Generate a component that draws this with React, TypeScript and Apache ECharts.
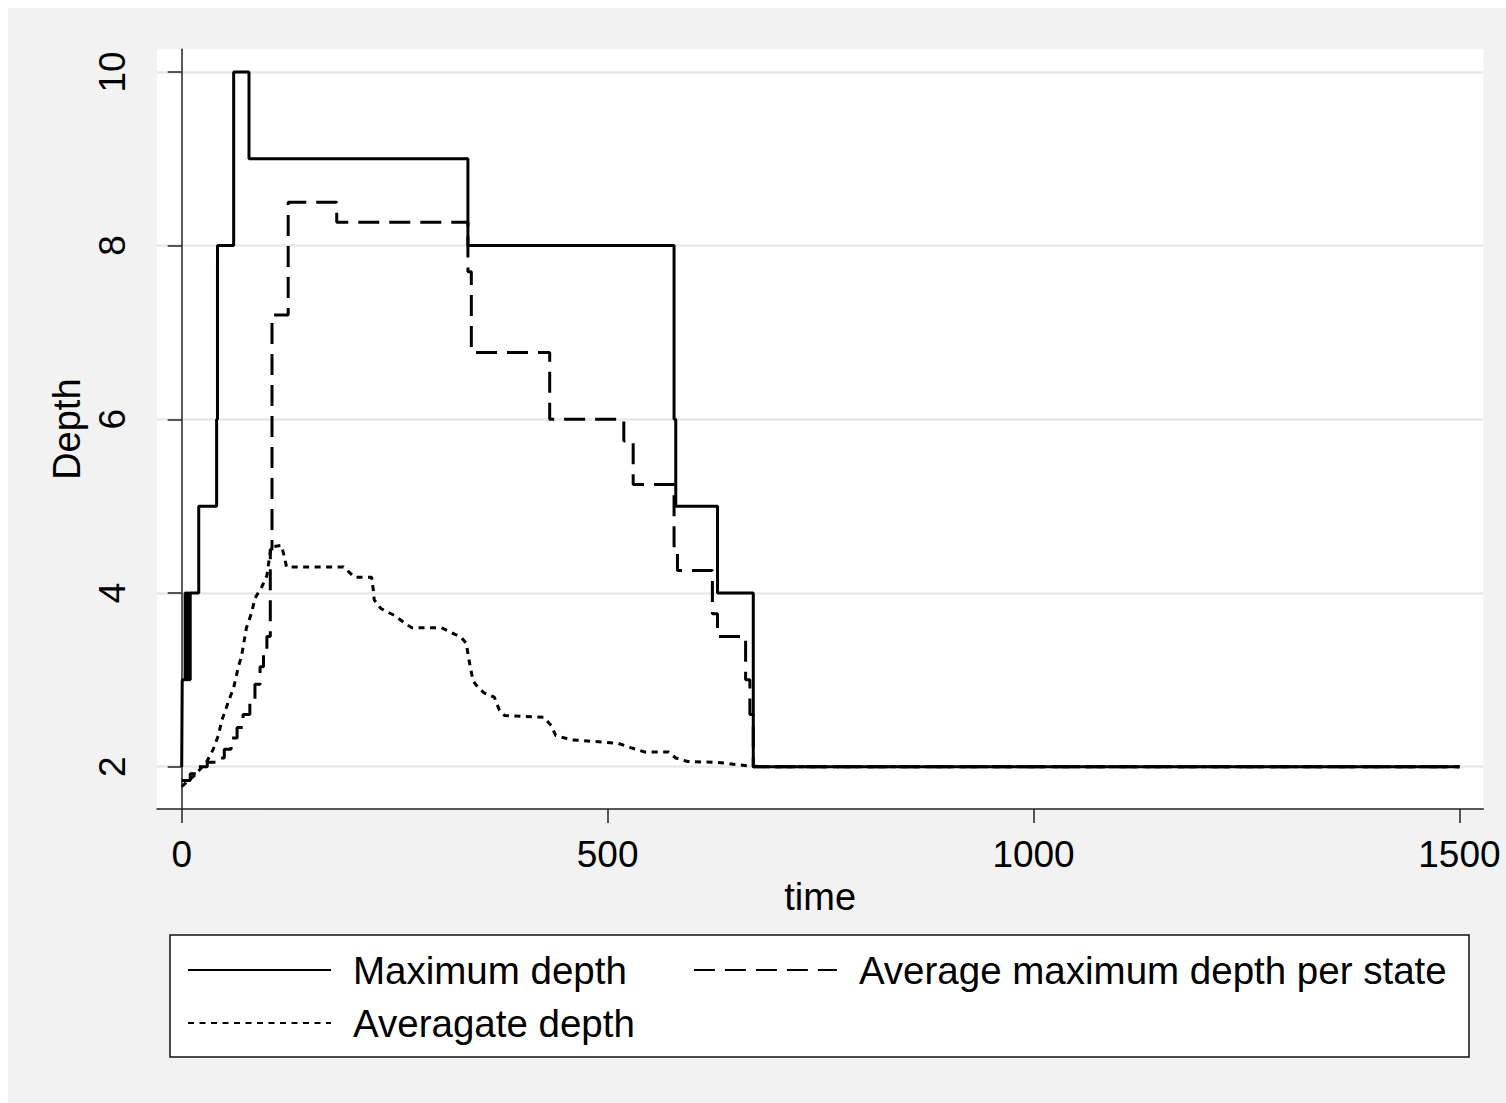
import React, { useEffect, useRef } from "react";
import * as echarts from "echarts";

const xTicks = [0, 500, 1000, 1500];
const yTicks = [2, 4, 6, 8, 10];

const seriesNames = ["Maximum depth", "Average maximum depth per state", "Averagate depth"];

// [time, depth] — step series (value holds until next time)
const maxDepth: [number, number][] = [
  [0, 2], [0.6, 3], [3, 3], [4, 4], [5, 3], [6, 4], [7, 3], [8, 4], [9, 3], [10, 4],
  [20, 5], [41, 6], [42, 8], [61, 10], [79, 9], [336, 8], [578, 6], [580, 5],
  [629, 4], [671, 2], [1500, 2],
];

const avgMaxDepth: [number, number][] = [
  [0, 1.84], [10, 1.92], [20, 2.0], [30, 2.05], [40, 2.1], [50, 2.2], [58, 2.33],
  [65, 2.45], [72, 2.6], [80, 2.78], [86, 2.95], [92, 3.15], [96, 3.35], [100, 3.5],
  [104, 4.5], [106, 7.2], [125, 8.5], [182, 8.27], [336, 7.7], [340, 6.77],
  [432, 6.0], [519, 5.75], [530, 5.25], [578, 4.5], [582, 4.26], [623, 3.76],
  [629, 3.5], [662, 3.0], [667, 2.6], [671, 2.0], [1500, 2.0],
];

const avgDepth: [number, number][] = [
  [0, 1.77], [15, 1.9], [29, 2.05], [37, 2.2], [43, 2.36], [47, 2.53], [56, 2.78],
  [61, 2.91], [67, 3.17], [70, 3.26], [76, 3.6], [82, 3.77], [86, 3.94], [94, 4.07],
  [100, 4.2], [103, 4.41], [105, 4.53], [117, 4.55], [121, 4.4], [123, 4.3],
  [190, 4.3], [203, 4.18], [223, 4.18], [225, 4.03], [226, 3.92], [234, 3.82],
  [250, 3.74], [261, 3.66], [270, 3.6], [305, 3.6], [328, 3.49], [334, 3.42],
  [338, 3.19], [342, 2.99], [348, 2.91], [355, 2.85], [367, 2.8], [373, 2.65],
  [379, 2.59], [425, 2.57], [434, 2.47], [439, 2.36], [457, 2.31], [512, 2.27],
  [527, 2.22], [543, 2.17], [571, 2.17], [580, 2.1], [594, 2.06], [629, 2.05],
  [665, 2.01], [680, 2.0], [1500, 2.0],
];

const FONT = "'Liberation Sans', Arial, sans-serif";

export default function App() {
  const ref = useRef<HTMLDivElement>(null);

  useEffect(() => {
    const chart = echarts.init(ref.current!, null, { renderer: "svg" });
    const legendText = {
      fontSize: 38.5,
      color: "#000",
      fontFamily: FONT,
      lineHeight: 40,
      padding: [0, 0, 0, 17],
    };
    const legendCommon = {
      left: 179,
      padding: 0,
      itemWidth: 143,
      itemHeight: 1,
      selectedMode: false,
      itemStyle: { color: "rgba(0,0,0,0)", borderWidth: 0, opacity: 0 },
      textStyle: legendText,
      z: 5,
    };
    chart.setOption({
      animation: false,
      backgroundColor: "#f2f2f2",
      grid: {
        left: 149,
        right: 22.7,
        top: 41.3,
        bottom: 294,
        show: true,
        backgroundColor: "#ffffff",
        borderWidth: 0,
      },
      graphic: [
        {
          type: "rect",
          shape: { x: 162, y: 927, width: 1299, height: 122 },
          style: { fill: "#ffffff", stroke: "#111", lineWidth: 1.5 },
          z: 0,
        },
      ],
      legend: [
        {
          ...legendCommon,
          top: 942,
          itemGap: 66,
          data: [seriesNames[0], seriesNames[1]],
        },
        {
          ...legendCommon,
          top: 995,
          data: [seriesNames[2]],
        },
      ],
      xAxis: {
        type: "value",
        min: -29,
        max: 1528,
        name: "time",
        nameLocation: "middle",
        nameGap: 61,
        nameTextStyle: { fontSize: 38, color: "#000", fontFamily: FONT },
        axisLine: { show: true, lineStyle: { color: "#222", width: 1.5 } },
        axisTick: { show: true, length: 14, customValues: xTicks, lineStyle: { color: "#222", width: 1.5 } },
        axisLabel: {
          customValues: xTicks,
          fontSize: 37,
          color: "#000",
          fontFamily: FONT,
          margin: 27,
          formatter: (v: number) => String(v),
        },
        splitLine: { show: false },
      },
      yAxis: {
        type: "value",
        min: 1.513,
        max: 10.26,
        name: "Depth",
        nameLocation: "middle",
        nameGap: 70,
        nameRotate: 90,
        nameTextStyle: { fontSize: 38, color: "#000", fontFamily: FONT },
        axisLine: { show: true, lineStyle: { color: "#222", width: 1.5 } },
        axisTick: { show: true, length: 14, customValues: yTicks, lineStyle: { color: "#222", width: 1.5 } },
        axisLabel: {
          customValues: yTicks,
          rotate: 90,
          fontSize: 37,
          color: "#000",
          fontFamily: FONT,
          margin: 26,
          formatter: (v: number) => String(v),
        },
        splitLine: { show: true, lineStyle: { color: "#e8e8e8", width: 2.5 } },
      },
      series: [
        {
          name: seriesNames[0],
          type: "line",
          step: "end",
          symbol: "none",
          data: maxDepth,
          lineStyle: { color: "#000", width: 3, type: "solid" },
          itemStyle: { color: "#000" },
          z: 3,
        },
        {
          name: seriesNames[1],
          type: "line",
          step: "end",
          symbol: "none",
          data: avgMaxDepth,
          lineStyle: { color: "#000", width: 3, type: [21, 10] },
          itemStyle: { color: "#000" },
          z: 2,
        },
        {
          name: seriesNames[2],
          type: "line",
          symbol: "none",
          data: avgDepth,
          lineStyle: { color: "#000", width: 3, type: [6, 5.5] },
          itemStyle: { color: "#000" },
          z: 2,
        },
      ],
    });
    return () => chart.dispose();
  }, []);

  return (
    <div style={{ position: "fixed", left: 8, top: 8, width: 1498, height: 1095, background: "#f2f2f2" }}>
      <div ref={ref} style={{ width: 1498, height: 1095 }} />
    </div>
  );
}
